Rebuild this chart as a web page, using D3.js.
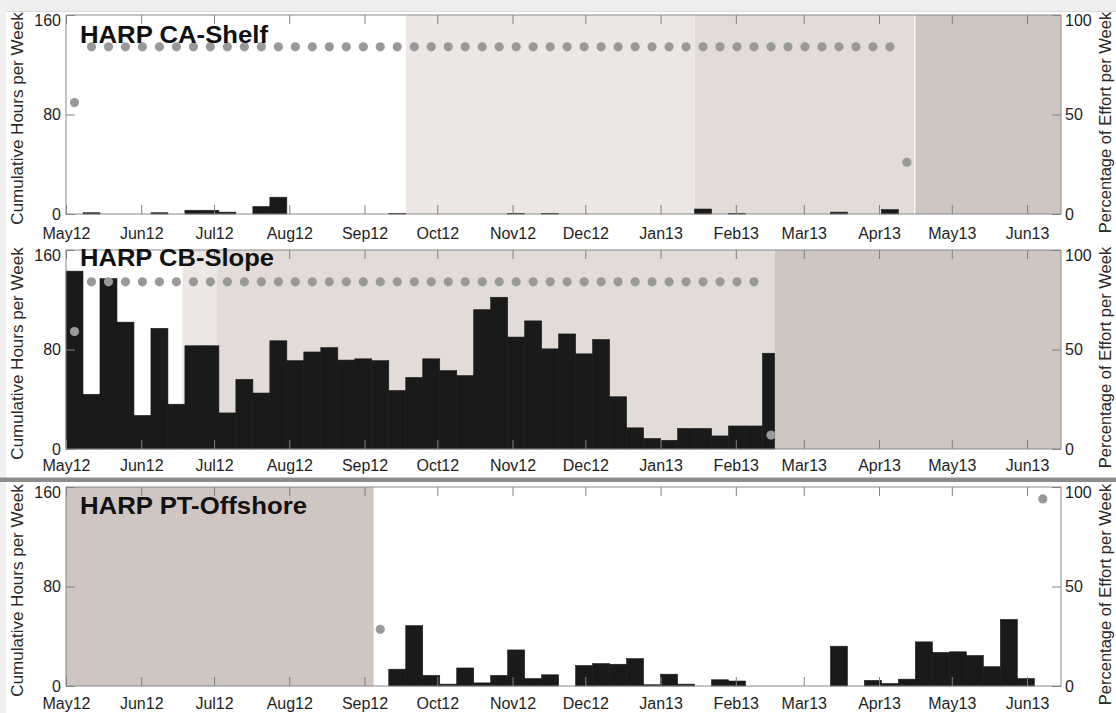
<!doctype html>
<html>
<head>
<meta charset="utf-8">
<script src="https://cdnjs.cloudflare.com/ajax/libs/d3/7.8.5/d3.min.js"></script>
<style>
  body { margin: 0; background: #fff; }
  svg { display: block; font-family: "Liberation Sans", Arial, sans-serif; }
</style>
</head>
<body>
<svg width="1116" height="713"></svg>
<script>
// sites, one panel each
var siteNames = ["HARP CA-Shelf", "HARP CB-Slope", "HARP PT-Offshore"];

// cumulative hours per week, weekly bins starting 1 May 2012
var caHours = [0, 1, 0, 0, 0, 1, 0, 3, 3, 1.5,
               0, 6, 13.5, 0, 0, 0, 0, 0, 0, 0.3,
               0, 0, 0, 0, 0, 0, 0.5, 0, 0.5, 0,
               0, 0, 0, 0, 0, 0, 0, 4, 0, 0.5,
               0, 0, 0, 0, 0, 1.5, 0, 0, 3.5, 0];
var cbHours = [143, 44, 137, 102, 27, 97, 36, 83, 83, 29,
               56, 45, 87, 71, 78, 81.5, 71.5, 72.5, 71, 47,
               57.5, 72.5, 63, 59, 112, 122, 90, 103, 80.5, 92.5,
               76.5, 88, 42, 17, 8.5, 7, 16.5, 16.5, 10.5, 18.5,
               18.5, 77];
var ptHours = [0, 0, 0, 0, 0, 0, 0, 0, 0, 0,
               0, 0, 0, 0, 0, 0, 0, 0, 0, 13.5,
               48.5, 8.5, 1.5, 14.5, 2.5, 8.5, 29, 6, 9, 0,
               16.5, 18, 17.5, 22, 1, 9.5, 1.5, 0, 5, 4,
               0, 0, 0, 0, 0, 32, 0, 4.5, 2, 5.5,
               35.5, 27, 27.5, 24.5, 15.5, 53.5, 6];

// percentage of effort per week (null = no marker)
var caEffort = [56, 84, 84, 84, 84, 84, 84, 84, 84, 84,
                84, 84, 84, 84, 84, 84, 84, 84, 84, 84,
                84, 84, 84, 84, 84, 84, 84, 84, 84, 84,
                84, 84, 84, 84, 84, 84, 84, 84, 84, 84,
                84, 84, 84, 84, 84, 84, 84, 84, 84, 26];
var cbEffort = [59, 84, 84, 84, 84, 84, 84, 84, 84, 84,
                84, 84, 84, 84, 84, 84, 84, 84, 84, 84,
                84, 84, 84, 84, 84, 84, 84, 84, 84, 84,
                84, 84, 84, 84, 84, 84, 84, 84, 84, 84,
                84, 7];
var ptEffort = [null, null, null, null, null, null, null, null, null, null,
                null, null, null, null, null, null, null, null, 28.5, null,
                null, null, null, null, null, null, null, null, null, null,
                null, null, null, null, null, null, null, null, null, null,
                null, null, null, null, null, null, null, null, null, null,
                null, null, null, null, null, null, null, 94];

// shaded periods: [from, to, shade level]
var caShade = [[new Date(2012, 8, 18), new Date(2013, 0, 15), 1],
               [new Date(2013, 0, 15), new Date(2013, 3, 15, 12), 2],
               [new Date(2013, 3, 16), new Date(2013, 5, 15), 3]];
var cbShade = [[new Date(2012, 5, 18), new Date(2012, 6, 2), 1],
               [new Date(2012, 6, 2), new Date(2013, 1, 17), 2],
               [new Date(2013, 1, 17), new Date(2013, 5, 15), 3]];
var ptShade = [[new Date(2012, 4, 1), new Date(2012, 8, 4, 18), 3]];

// last day of recordings per site
var recEnd = [new Date(2013, 3, 16), new Date(2013, 1, 17), new Date(2013, 5, 15)];

var startDate = new Date(2012, 4, 1);
var endDate = new Date(2013, 5, 15);
var hourTicks = [0, 80, 160];
var effortTicks = [0, 50, 100];

var panels = [
  {name: siteNames[0], hours: caHours, effort: caEffort, shade: caShade, end: recEnd[0]},
  {name: siteNames[1], hours: cbHours, effort: cbEffort, shade: cbShade, end: recEnd[1]},
  {name: siteNames[2], hours: ptHours, effort: ptEffort, shade: ptShade, end: recEnd[2]}
];

// layout
var tops = [15, 250, 487], ph = 199;
var titleDy = [28, 16, 27], titleLen = [188, 194, 227];
var labelPad = [14, 11, 12];
var shadeColor = [null, "#ece7e5", "#e2dbd8", "#cfc5c1"];

var svg = d3.select("svg");

// window chrome bits around the screenshot
svg.append("rect").attr("x", 0).attr("y", 0).attr("width", 1116).attr("height", 11).attr("fill", "#eeeeee");
svg.append("line").attr("x1", 0).attr("x2", 1116).attr("y1", 11.5).attr("y2", 11.5).attr("stroke", "#dadada");
svg.append("rect").attr("x", 0).attr("y", 0).attr("width", 6).attr("height", 713).attr("fill", "#f0f0f0");

var x = d3.scaleTime().domain([startDate, endDate]).range([66, 1061]);
var months = d3.timeMonth.range(startDate, endDate);
var fmt = d3.timeFormat("%b%y");

panels.forEach(function(p, k) {
  var top = tops[k], bottom = top + ph;
  var y = d3.scaleLinear().domain([0, 160]).range([bottom, top]);
  var yr = d3.scaleLinear().domain([0, 100]).range([bottom, top]);
  var g = svg.append("g");

  g.selectAll("rect.shade")
    .data(p.shade)
    .enter()
    .append("rect")
    .attr("x", d => x(d[0]))
    .attr("width", d => x(d[1]) - x(d[0]))
    .attr("y", top)
    .attr("height", ph)
    .attr("fill", d => shadeColor[d[2]]);

  var weeks = p.hours.map((v, i) => ({
    v: v,
    t0: d3.timeDay.offset(startDate, 7 * i),
    t1: d3.timeDay.offset(startDate, 7 * i + 7)
  })).filter(d => d.v > 0);

  g.selectAll("rect.bar")
    .data(weeks)
    .enter()
    .append("rect")
    .attr("x", d => x(d.t0))
    .attr("width", d => Math.min(x(d.t1), x(p.end)) - x(d.t0))
    .attr("y", d => y(d.v))
    .attr("height", d => y(0) - y(d.v))
    .attr("fill", "#1a1a1a")
    .attr("stroke", "#1a1a1a")
    .attr("stroke-width", 0.6);

  var dots = p.effort.map((v, i) => ({v: v, t: d3.timeHour.offset(startDate, (7 * i + 3.5) * 24)}))
    .filter(d => d.v != null);

  g.selectAll("circle")
    .data(dots)
    .enter()
    .append("circle")
    .attr("cx", d => x(d.t))
    .attr("cy", d => yr(d.v))
    .attr("r", 4.6)
    .attr("fill", "#999999");

  // axes, ticks pointing in
  var ax = g.append("g").attr("transform", "translate(0," + bottom + ")")
    .call(d3.axisBottom(x).tickValues(months).tickFormat(fmt).tickSizeInner(-9).tickSizeOuter(0).tickPadding(labelPad[k]));
  var axT = g.append("g").attr("transform", "translate(0," + top + ")")
    .call(d3.axisTop(x).tickValues(months).tickFormat("").tickSizeInner(-9).tickSizeOuter(0));
  var axL = g.append("g").attr("transform", "translate(66,0)")
    .call(d3.axisLeft(y).tickValues(hourTicks).tickSizeInner(-9).tickSizeOuter(0).tickPadding(5));
  var axR = g.append("g").attr("transform", "translate(1061,0)")
    .call(d3.axisRight(yr).tickValues(effortTicks).tickSizeInner(-9).tickSizeOuter(0).tickPadding(4));

  [ax, axT, axL, axR].forEach(function(a) {
    a.select(".domain").remove();
    a.selectAll("line").attr("stroke", "#808080");
    a.selectAll("text").attr("font-size", 16).attr("fill", "#1e1e1e").attr("font-family", "Liberation Sans, Arial, sans-serif");
  });
  axL.selectAll("text").filter(d => d === 160).attr("dy", "0.68em");
  axR.selectAll("text").filter(d => d === 100).attr("dy", "0.68em");

  g.append("rect")
    .attr("x", 66).attr("y", top).attr("width", 1061 - 66).attr("height", ph)
    .attr("fill", "none").attr("stroke", "#8a8a8a").attr("stroke-width", 1);

  g.append("text")
    .attr("transform", "translate(17," + (top + ph / 2 + 4) + ") rotate(-90)")
    .attr("text-anchor", "middle")
    .attr("dy", "0.35em")
    .attr("font-size", 17)
    .attr("fill", "#2a2a2a")
    .text("Cumulative Hours per Week");

  g.append("text")
    .attr("transform", "translate(1105," + (top + ph / 2 + 8) + ") rotate(-90)")
    .attr("text-anchor", "middle")
    .attr("dy", "0.35em")
    .attr("font-size", 16.5)
    .attr("fill", "#2a2a2a")
    .text("Percentage of Effort per Week");

  g.append("text")
    .attr("x", 80)
    .attr("y", top + titleDy[k])
    .attr("font-size", 23)
    .attr("font-weight", "bold")
    .attr("fill", "#111")
    .attr("textLength", titleLen[k])
    .attr("lengthAdjust", "spacingAndGlyphs")
    .text(p.name);
});

// separator between the second and third screenshots
svg.append("rect").attr("x", 0).attr("y", 477.5).attr("width", 1116).attr("height", 4.5).attr("fill", "#8c8c8c");
</script>
</body>
</html>
